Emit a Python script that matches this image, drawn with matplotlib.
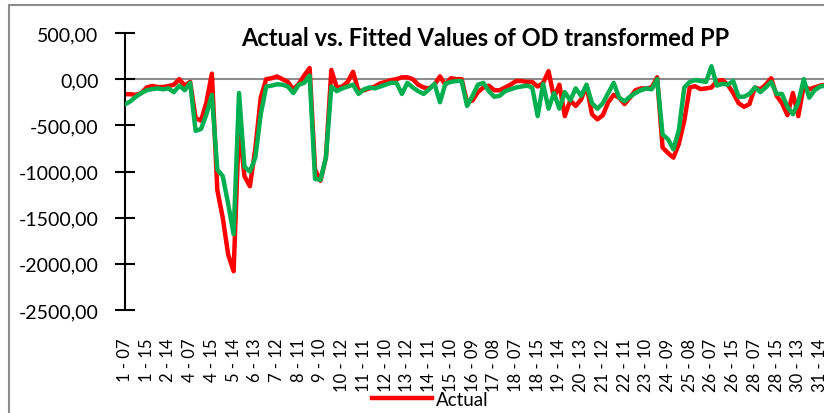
import matplotlib.pyplot as plt
from matplotlib.patches import Rectangle

plt.rcParams['font.family'] = ['Lato', 'DejaVu Sans']

# category labels shown on the x axis (one every 4 points)
tick_labels = ['1 - 07', '1 - 15', '2 - 14', '4 - 07', '4 - 15', '5 - 14', '6 - 13', '7 - 12',
               '8 - 11', '9 - 10', '10 - 12', '11 - 11', '12 - 10', '13 - 12', '14 - 11',
               '15 - 10', '16 - 09', '17 - 08', '18 - 07', '18 - 15', '19 - 14', '20 - 13',
               '21 - 12', '22 - 11', '23 - 10', '24 - 09', '25 - 08', '26 - 07', '26 - 15',
               '28 - 07', '28 - 15', '30 - 13', '31 - 14']
step = 4

actual = [-163, -163, -170, -150, -90, -73, -85, -85, -75, -60,
          0, -70, -30, -420, -450, -250, 60, -1200, -1500, -1900,
          -2080, -500, -1050, -1160, -750, -200, 0, 10, 30, 0,
          -30, -110, -50, 40, 120, -980, -1100, -850, 100, -90,
          -80, -30, 80, -130, -120, -100, -80, -45, -30, -10,
          0, 20, 20, 0, -60, -90, -100, -60, 30, -60,
          10, 0, 0, -250, -230, -140, -90, -70, -120, -120,
          -90, -60, -20, -20, -30, -30, -80, -40, 87, -200,
          -60, -400, -230, -290, -220, -70, -380, -435, -390, -250,
          -170, -200, -270, -200, -120, -100, -100, -90, 20, -740,
          -800, -850, -700, -450, -90, -76, -108, -100, -90, -20,
          -10, -60, -150, -260, -300, -270, -90, -110, -60, 10,
          -180, -260, -390, -150, -400, -70, -110, -90, -70, -60]

fitted = [-272, -240, -190, -150, -120, -108, -100, -110, -100, -141,
          -70, -120, -40, -560, -540, -380, -170, -980, -1050, -1350,
          -1680, -150, -950, -1000, -850, -380, -80, -70, -55, -60,
          -80, -150, -60, -40, 40, -1080, -1090, -850, -80, -130,
          -100, -80, -60, -160, -110, -90, -100, -80, -60, -40,
          -40, -160, -40, -90, -130, -160, -110, -50, -250, -50,
          -30, -20, -20, -290, -180, -60, -40, -130, -190, -180,
          -130, -110, -90, -80, -70, -90, -400, -50, -320, -150,
          -320, -140, -230, -100, -180, -60, -260, -320, -260, -150,
          -40, -200, -240, -190, -150, -120, -100, -110, 0, -600,
          -650, -760, -550, -90, -30, -10, -20, -30, 140, -70,
          -50, -60, -20, -190, -190, -160, -90, -140, -90, -30,
          -160, -160, -300, -380, -250, 0, -200, -120, -80, -70]

yticks = [500, 0, -500, -1000, -1500, -2000, -2500]

W, H = 824, 414
fig = plt.figure(figsize=(W / 100, H / 100), dpi=100)
ax = fig.add_axes([125 / W, (H - 311) / H, 1 - 125 / W, 277 / H])

x = list(range(len(actual)))
ax.axhline(0, color='#8c8c8c', linewidth=1.5, zorder=1)
ax.plot(x, actual, color='#ff0000', linewidth=3.2, label='Actual', zorder=2)
ax.plot(x, fitted, color='#00b050', linewidth=3.2, label='Fitted', zorder=3)

ax.set_ylim(-2500, 500)
ax.set_xlim(0, (W - 125) / 5.43)
ax.set_yticks(yticks)
ax.set_yticklabels([f'{v:.2f}'.replace('.', ',') for v in yticks], fontsize=14)
ax.set_xticks(range(0, step * len(tick_labels), step))
ax.set_xticklabels(tick_labels, rotation=90, fontsize=12, va='top')

for s in ['top', 'right', 'bottom']:
    ax.spines[s].set_visible(False)
ax.spines['left'].set_linewidth(1.5)
ax.tick_params(axis='y', direction='inout', length=14, width=1.5, pad=12)
ax.tick_params(axis='x', length=0, pad=20)

fig.text(485 / W, 1 - 38 / H, 'Actual vs. Fitted Values of OD transformed PP',
         ha='center', va='center', fontsize=17, fontweight='bold')

fig.legend(loc='upper left', bbox_to_anchor=(372 / W, 1 - 392 / H), ncol=1,
           frameon=False, fontsize=13.5, handlelength=3.2, handletextpad=0.2,
           borderaxespad=0, borderpad=0)

fig.patches.append(Rectangle((9 / W, -0.2), 1.5, 1.2 - 6 / H, transform=fig.transFigure,
                             fill=False, edgecolor='#8c8c8c', linewidth=1.5))

fig.savefig('out.png', dpi=100)
